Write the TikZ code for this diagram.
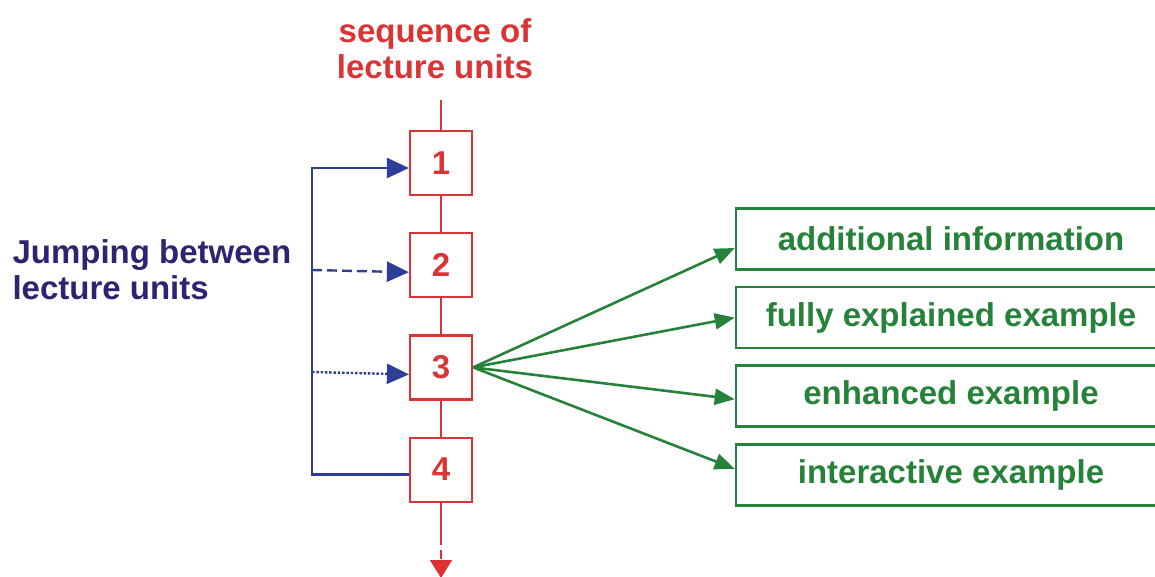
\documentclass[tikz,border=0pt]{standalone}
\usepackage{fontspec}
\setmainfont{Liberation Sans}
\usetikzlibrary{positioning,arrows.meta}

\definecolor{seqred}{RGB}{218,52,52}
\definecolor{jumpblue}{RGB}{45,62,150}
\definecolor{navy}{RGB}{45,35,112}
\definecolor{extgreen}{RGB}{38,130,58}

\begin{document}
\begin{tikzpicture}[x=1pt, y=-1pt, node distance=36pt,
	font=\fontsize{33}{36}\selectfont\bfseries,
	u/.style={draw=seqred, line width=2.2pt, text=seqred, minimum width=62pt, minimum height=64pt, inner sep=0pt},
	g/.style={draw=extgreen, line width=2.6pt, text=extgreen, minimum width=430pt, minimum height=61pt, inner sep=0pt},
	seq/.style={draw=seqred, line width=2.2pt},
	jump/.style={draw=jumpblue, line width=2.4pt, -{Triangle[length=22pt,width=20pt]}},
	ext/.style={draw=extgreen, line width=2.6pt, -{Triangle[length=20pt,width=16pt]}}]
		\useasboundingbox (0,0) rectangle (1155,576);

		% sequence of units
		\node[text=seqred, align=center] (title) at (435,49) {sequence of\\lecture units};
		\node[u] (u1) at (441,163) {1};
		\node[u, below=of u1] (u2) {2};
		\node[u, below=of u2] (u3) {3};
		\node[u, below=of u3] (u4) {4};
		\coordinate (top) at (441,100);
		\coordinate (d1) at (441,536);
		\coordinate (end) at (441,578);

		\path[seq] (top) edge (u1) (u1) edge (u2) (u2) edge (u3) (u3) edge (u4) (u4.south) edge (d1);
		\draw[seq, dashed, dash pattern=on 9pt off 5pt, -{Triangle[length=18pt,width=22pt]}] (d1) -- (end);

		% jumping
		\node[text=navy, align=left, anchor=west] (jl) at (9,270) {Jumping between\\lecture units};
		\coordinate (j1) at (312,168);
		\coordinate (j2) at (312,270);
		\coordinate (j3) at (312,372);
		\draw[jump] ([yshift=-5pt]u4.west) -| (j1) -- ([yshift=-5pt]u1.west);
		\draw[jump, dash pattern=on 10pt off 5pt] (j2) -- ([yshift=-7pt]u2.west);
		\draw[jump, dash pattern=on 2.5pt off 1.8pt] (j3) -- ([yshift=-7pt]u3.west);

		% extensions
		\node[g] (g1) at (951,239) {additional information};
		\node[g, below=15pt of g1] (g2) {fully explained example};
		\node[g, below=15pt of g2] (g3) {enhanced example};
		\node[g, below=15pt of g3] (g4) {interactive example};

		\draw[ext] (u3.east) -- ([yshift=-9pt]g1.west);
		\draw[ext] (u3.east) -- (g2.west);
		\draw[ext] (u3.east) -- ([yshift=-3pt]g3.west);
		\draw[ext] (u3.east) -- ([yshift=6pt]g4.west);
	\end{tikzpicture}
\end{document}
